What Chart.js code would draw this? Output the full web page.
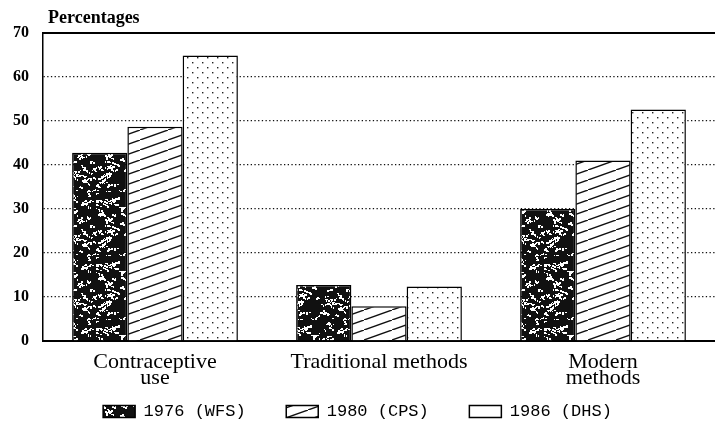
<!DOCTYPE html>
<html>
<head>
<meta charset="utf-8">
<script src="https://cdn.jsdelivr.net/npm/chart.js@4"></script>
<style>
  html, body { margin: 0; padding: 0; background: #fff; }
  #wrap { width: 715px; height: 432px; }
</style>
</head>
<body>
<div id="wrap"><canvas id="usageChart" width="715" height="432"></canvas></div>
<script>
// Data
const categories = [['Contraceptive', 'use'], 'Traditional methods', ['Modern', 'methods']];
const seriesLabels = ['1976 (WFS)', '1980 (CPS)', '1986 (DHS)'];
const wfs1976 = [42.8, 12.7, 30.0];
const cps1980 = [48.7, 7.9, 41.0];
const dhs1986 = [64.9, 12.4, 52.6];
const yMax = 70;
const yStep = 10;

const ctx = document.getElementById('usageChart').getContext('2d');

// --- fill patterns (dark speckle, diagonal hatch, dots) ---
function makeTile(w, h, paint) {
    const c = document.createElement('canvas');
    c.width = w; c.height = h;
    paint(c.getContext('2d'), w, h);
    return ctx.createPattern(c, 'repeat');
}

const darkFill = makeTile(64, 64, (g, w, h) => {
    g.fillStyle = '#111';
    g.fillRect(0, 0, w, h);
    g.fillStyle = '#fff';
    let s = 11;
    const next = () => { s = (s * 1103515245 + 12345) % 2147483648; return s / 2147483648; };
    // short irregular white squiggles
    for (let i = 0; i < 110; i++) {
        let x = Math.floor(next() * w), y = Math.floor(next() * h);
        const len = 2 + Math.floor(next() * 6);
        for (let k = 0; k < len; k++) {
            g.fillRect(x, y, 1 + Math.floor(next() * 2), 1 + Math.floor(next() * 2));
            x += Math.floor(next() * 3);
            y += Math.floor(next() * 3) - 1;
        }
    }
});

const hatchFill = makeTile(28, 10, (g, w, h) => {
    g.fillStyle = '#fff';
    g.fillRect(0, 0, w, h);
    g.strokeStyle = '#111';
    g.lineWidth = 1.4;
    g.beginPath();
    g.moveTo(-2, h + 2 * h / w);
    g.lineTo(w + 2, -2 * h / w);
    g.stroke();
});

const dotFill = makeTile(10, 10, (g, w, h) => {
    g.fillStyle = '#fff';
    g.fillRect(0, 0, w, h);
    g.fillStyle = '#222';
    g.fillRect(2, 2, 1.4, 1.4);
    g.fillRect(7, 7, 1.4, 1.4);
});

// "Percentages" label above the axis
const axisCaption = {
    id: 'axisCaption',
    afterDraw(chart) {
        const c = chart.ctx;
        c.save();
        c.font = 'bold 18px "Liberation Serif"';
        c.fillStyle = '#000';
        c.textBaseline = 'alphabetic';
        c.fillText('Percentages', chart.chartArea.left + 5, chart.chartArea.top - 10);
        c.restore();
    }
};

const usageChart = new Chart(ctx, {
    type: 'bar',
    data: {
        labels: categories,
        datasets: [{
            label: seriesLabels[0],
            data: wfs1976,
            backgroundColor: darkFill,
            borderColor: '#000',
            borderWidth: 1.5
        }, {
            label: seriesLabels[1],
            data: cps1980,
            backgroundColor: hatchFill,
            borderColor: '#000',
            borderWidth: 1.5
        }, {
            label: seriesLabels[2],
            data: dhs1986,
            backgroundColor: dotFill,
            borderColor: '#000',
            borderWidth: 1.5
        }]
    },
    plugins: [axisCaption],
    options: {
        responsive: false,
        animation: false,
        layout: { padding: { top: 25, bottom: 2, left: 0, right: 0 } },
        datasets: {
            bar: { categoryPercentage: 0.74, barPercentage: 1.0, borderSkipped: 'bottom' }
        },
        scales: {
            x: {
                grid: { display: false },
                border: { display: true, color: '#000', width: 2 },
                ticks: {
                    color: '#000',
                    padding: 5,
                    maxRotation: 0,
                    font: { family: '"Liberation Serif"', size: 22, lineHeight: 0.74 }
                },
                afterFit: scale => { scale.height = 52; }
            },
            xTop: {
                position: 'top',
                grid: { display: false },
                ticks: { display: false },
                border: { display: true, color: '#000', width: 2 }
            },
            y: {
                min: 0,
                max: yMax,
                grid: {
                    color: c => (c.tick && (c.tick.value === 0 || c.tick.value === yMax)) ? 'rgba(0,0,0,0)' : '#111',
                    lineWidth: 1.3,
                    drawTicks: false
                },
                border: { display: true, color: '#000', width: 1.5, dash: [1.3, 2.4] },
                ticks: {
                    stepSize: yStep,
                    color: '#000',
                    padding: 14,
                    font: { family: '"Liberation Serif"', size: 16, weight: 'bold' }
                },
                afterFit: scale => { scale.width = 43; }
            }
        },
        plugins: {
            title: { display: false },
            tooltip: { enabled: false },
            legend: {
                display: true,
                position: 'bottom',
                labels: {
                    color: '#000',
                    boxWidth: 32,
                    boxHeight: 12,
                    padding: 10,
                    font: { family: '"Liberation Mono"', size: 17 },
                    generateLabels: chart => {
                        const items = Chart.defaults.plugins.legend.labels.generateLabels(chart);
                        items.forEach((it, i) => {
                            it.lineWidth = 1.5;
                            it.strokeStyle = '#000';
                            if (i === 2) it.fillStyle = '#fff';
                            if (i < 2) it.text += '   ';
                        });
                        return items;
                    }
                }
            }
        }
    }
});
</script>
</body>
</html>
